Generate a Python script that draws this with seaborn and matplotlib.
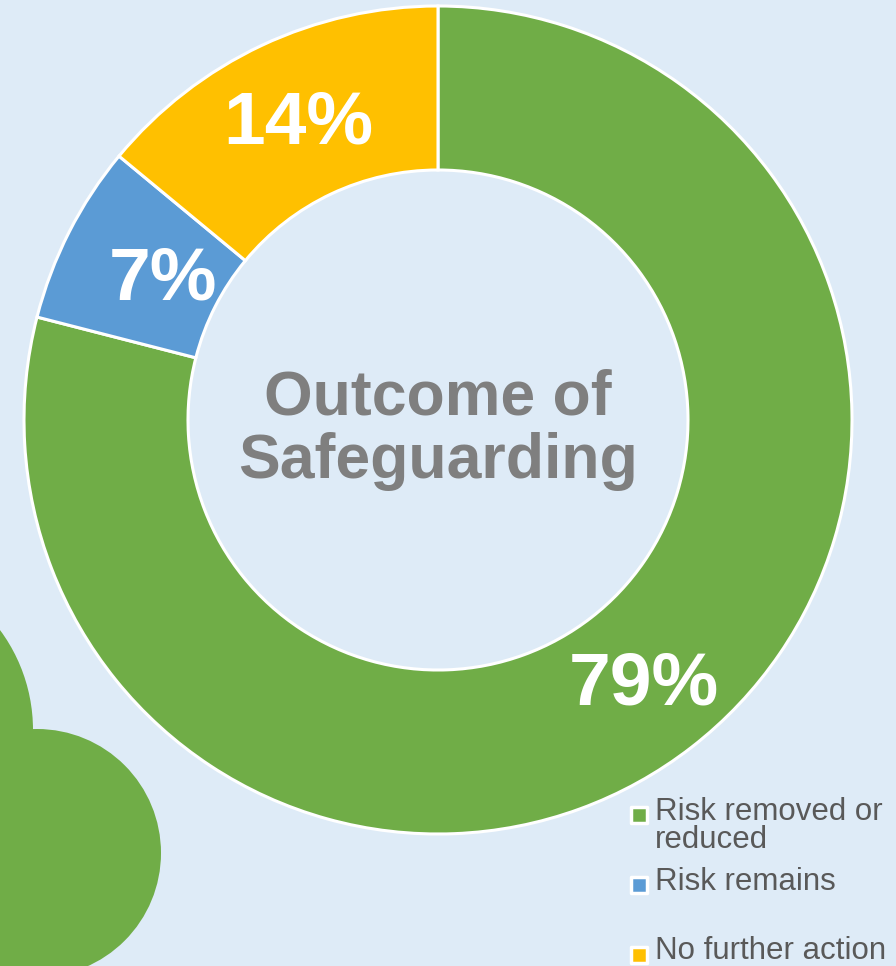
import numpy as np
import matplotlib
matplotlib.use("Agg")
import matplotlib.pyplot as plt
from matplotlib.patches import Circle
import seaborn as sns

# %% Data
categories = ["Risk removed or\nreduced", "Risk remains", "No further action"]
shares = [79, 7, 14]
colors = ["#70AD47", "#5B9BD5", "#FFC000"]
center_title = "Outcome of\nSafeguarding"

# %% Style
sns.set_theme(style="white")
plt.rcParams["font.family"] = ["Liberation Sans", "DejaVu Sans"]
bg = "#DEEBF7"
W, H = 896, 966

fig = plt.figure(figsize=(W / 100, H / 100), dpi=100, facecolor=bg)
ax = fig.add_axes([0, 0, 1, 1])
ax.set_facecolor(bg)

# decorative blobs bottom-left
ax.add_patch(Circle((-135, H - 730), 168, color="#70AD47", lw=0, zorder=0))
ax.add_patch(Circle((37, H - 853), 124, color="#70AD47", lw=0, zorder=0))

# %% Donut
cx, cy, r_out, ring = 438, H - 420, 414, 164
wedges, _ = ax.pie(shares, colors=colors, startangle=90, counterclock=False,
                   radius=r_out, center=(cx, cy),
                   wedgeprops=dict(width=ring, edgecolor="white", linewidth=2.2))

label_r = [0.81, 0.745, 0.79]
for w, s, lr in zip(wedges, shares, label_r):
    mid = np.deg2rad((w.theta1 + w.theta2) / 2)
    ax.text(cx + lr * r_out * np.cos(mid), cy + lr * r_out * np.sin(mid), f"{s}%",
            ha="center", va="center", fontsize=54, fontweight="bold", color="white")

ax.text(cx, cy - 10, center_title, ha="center", va="center", fontsize=45,
        fontweight="bold", color="#7F7F7F", linespacing=1.1)

# %% Legend (manual, PowerPoint-like spacing)
leg_y = [815, 885, 955]
base_y = [848, 890, 959]  # baseline of the last line of each entry
for c, lab, y, b in zip(colors, categories, leg_y, base_y):
    ax.scatter([639], [H - y], marker="s", s=130, color=c, edgecolor="white",
               linewidth=2.5, zorder=5, clip_on=False)
    ax.text(655, H - b, lab, ha="left", va="baseline", fontsize=22.5,
            color="#595959", linespacing=0.9)

ax.set_xlim(0, W)
ax.set_ylim(0, H)
ax.set_aspect("equal")
ax.axis("off")

fig.savefig("out.png", dpi=100, facecolor=bg)
